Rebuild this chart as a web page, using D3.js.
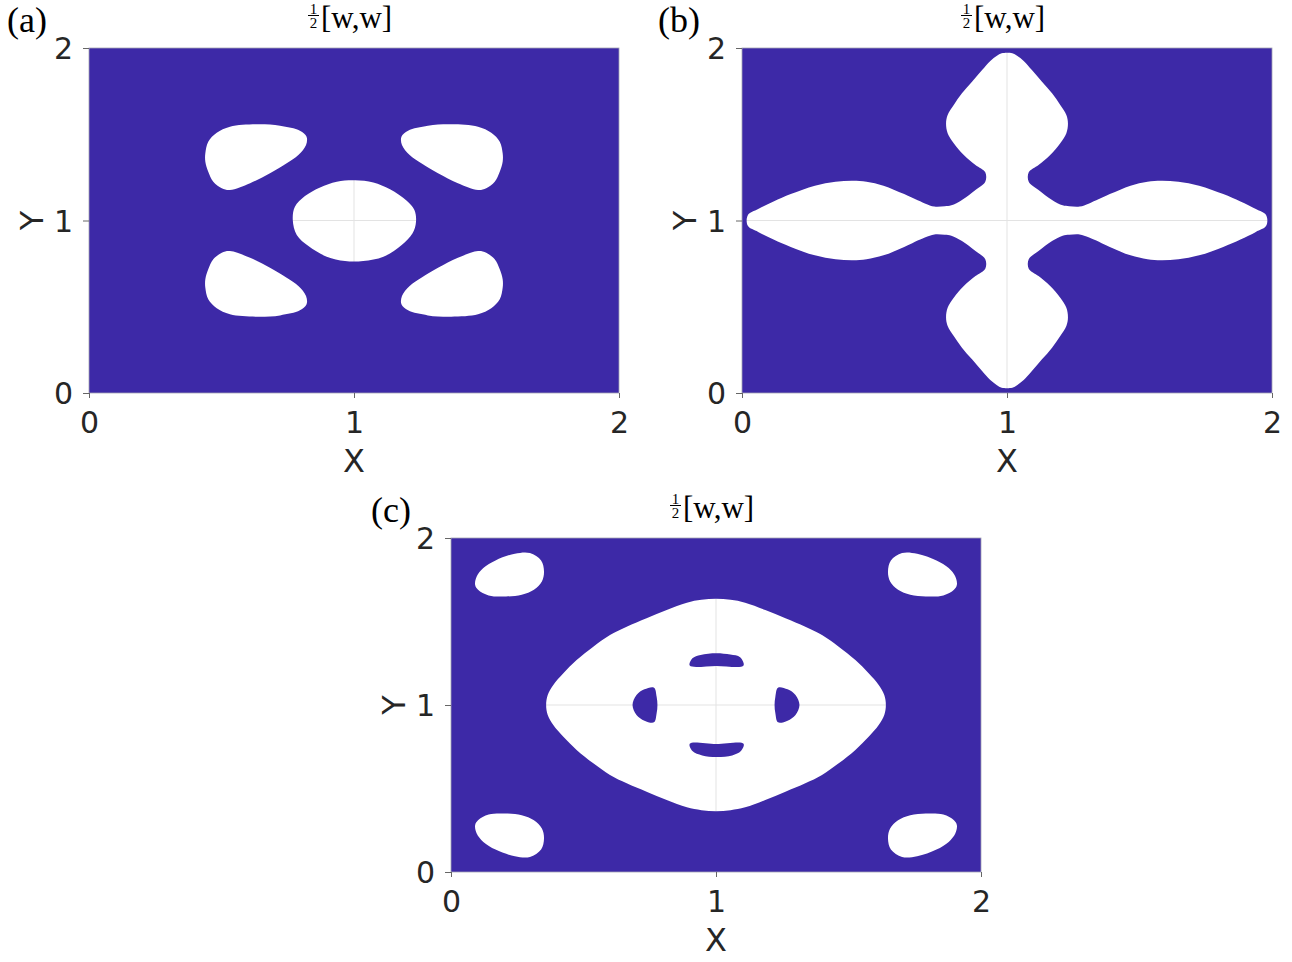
<!DOCTYPE html>
<html>
<head>
<meta charset="utf-8">
<script src="https://cdn.jsdelivr.net/npm/d3@7"></script>
<style>
  body { margin: 0; background: #fff; }
  svg { display: block; }
</style>
</head>
<body>
<div id="chart"></div>
<script>
// Axis ticks and labels
const ticks = [0, 1, 2];
const panelLabels = ['(a)', '(b)', '(c)'];
const titleText = '[w,w]';

// White (empty) regions of each panel, outline points in data units [x, y]
const holesA = [
  // centre
  [[0.769,1.003],[0.777,1.080],[0.815,1.142],[0.872,1.192],[0.935,1.225],[1.004,1.233],[1.073,1.221],
   [1.136,1.181],[1.199,1.115],[1.228,1.061],[1.234,0.993],[1.221,0.926],[1.180,0.858],[1.111,0.790],
   [1.035,0.765],[0.966,0.765],[0.897,0.790],[0.828,0.852],[0.784,0.916]],
  // top left
  [[0.439,1.390],[0.450,1.457],[0.482,1.509],[0.532,1.544],[0.633,1.558],[0.721,1.550],[0.796,1.521],
   [0.821,1.486],[0.819,1.438],[0.790,1.380],[0.746,1.332],[0.683,1.274],[0.608,1.216],[0.532,1.177],
   [0.501,1.187],[0.469,1.225],[0.450,1.283],[0.439,1.341]],
  // top right
  [[1.561,1.390],[1.550,1.457],[1.518,1.509],[1.468,1.544],[1.367,1.558],[1.279,1.550],[1.204,1.521],
   [1.179,1.486],[1.181,1.438],[1.210,1.380],[1.254,1.332],[1.317,1.274],[1.392,1.216],[1.468,1.177],
   [1.499,1.187],[1.531,1.225],[1.550,1.283],[1.561,1.341]],
  // bottom left
  [[0.439,0.610],[0.450,0.543],[0.482,0.491],[0.532,0.456],[0.633,0.442],[0.721,0.450],[0.796,0.479],
   [0.821,0.514],[0.819,0.562],[0.790,0.620],[0.746,0.668],[0.683,0.726],[0.608,0.784],[0.532,0.823],
   [0.501,0.813],[0.469,0.775],[0.450,0.717],[0.439,0.659]],
  // bottom right
  [[1.561,0.610],[1.550,0.543],[1.518,0.491],[1.468,0.456],[1.367,0.442],[1.279,0.450],[1.204,0.479],
   [1.179,0.514],[1.181,0.562],[1.210,0.620],[1.254,0.668],[1.317,0.726],[1.392,0.784],[1.468,0.823],
   [1.499,0.813],[1.531,0.775],[1.550,0.717],[1.561,0.659]]
];

const holesB = [
  // cross shaped region
  [[0.980,1.969],[0.962,1.955],[0.937,1.925],[0.906,1.872],[0.868,1.805],[0.830,1.737],[0.799,1.670],
   [0.776,1.612],[0.770,1.563],[0.776,1.506],[0.799,1.448],[0.837,1.380],[0.881,1.322],[0.918,1.279],
   [0.918,1.225],[0.881,1.177],[0.830,1.119],[0.790,1.088],[0.765,1.083],[0.726,1.081],[0.690,1.099],
   [0.612,1.153],[0.534,1.202],[0.470,1.225],[0.418,1.231],[0.353,1.225],[0.275,1.202],[0.184,1.153],
   [0.119,1.110],[0.061,1.066],[0.022,1.031],
   [0.022,0.969],[0.061,0.934],[0.119,0.890],[0.184,0.847],[0.275,0.798],[0.353,0.775],[0.418,0.769],
   [0.470,0.775],[0.534,0.798],[0.612,0.847],[0.690,0.901],[0.726,0.919],[0.765,0.917],[0.790,0.912],
   [0.830,0.881],[0.881,0.823],[0.918,0.775],[0.918,0.721],[0.881,0.678],[0.837,0.620],[0.799,0.552],
   [0.776,0.494],[0.770,0.437],[0.776,0.388],[0.799,0.330],[0.830,0.263],[0.868,0.195],[0.906,0.128],
   [0.937,0.075],[0.962,0.045],[0.980,0.031],
   [1.020,0.031],[1.038,0.045],[1.063,0.075],[1.094,0.128],[1.132,0.195],[1.170,0.263],[1.201,0.330],
   [1.224,0.388],[1.230,0.437],[1.224,0.494],[1.201,0.552],[1.163,0.620],[1.119,0.678],[1.082,0.721],
   [1.082,0.775],[1.119,0.823],[1.170,0.881],[1.210,0.912],[1.235,0.917],[1.274,0.919],[1.310,0.901],
   [1.388,0.847],[1.466,0.798],[1.530,0.775],[1.582,0.769],[1.647,0.775],[1.725,0.798],[1.816,0.847],
   [1.881,0.890],[1.939,0.934],[1.978,0.969],
   [1.978,1.031],[1.939,1.066],[1.881,1.110],[1.816,1.153],[1.725,1.202],[1.647,1.225],[1.582,1.231],
   [1.530,1.225],[1.466,1.202],[1.388,1.153],[1.310,1.099],[1.274,1.081],[1.235,1.083],[1.210,1.088],
   [1.170,1.119],[1.119,1.177],[1.082,1.225],[1.082,1.279],[1.119,1.322],[1.163,1.380],[1.201,1.448],
   [1.224,1.506],[1.230,1.563],[1.224,1.612],[1.201,1.670],[1.170,1.737],[1.132,1.805],[1.094,1.872],
   [1.063,1.925],[1.038,1.955],[1.020,1.969]]
];

const holesC = [
  // corner ovals
  [[0.091,1.720],[0.097,1.770],[0.122,1.820],[0.168,1.866],[0.241,1.906],[0.298,1.910],[0.340,1.866],
   [0.351,1.800],[0.343,1.740],[0.313,1.690],[0.267,1.660],[0.208,1.650],[0.142,1.656],[0.102,1.690]],
  [[1.909,1.720],[1.903,1.770],[1.878,1.820],[1.832,1.866],[1.759,1.906],[1.702,1.910],[1.660,1.866],
   [1.649,1.800],[1.657,1.740],[1.687,1.690],[1.733,1.660],[1.792,1.650],[1.858,1.656],[1.898,1.690]],
  [[0.091,0.280],[0.097,0.230],[0.122,0.180],[0.168,0.134],[0.241,0.094],[0.298,0.090],[0.340,0.134],
   [0.351,0.200],[0.343,0.260],[0.313,0.310],[0.267,0.340],[0.208,0.350],[0.142,0.344],[0.102,0.310]],
  [[1.909,0.280],[1.903,0.230],[1.878,0.180],[1.832,0.134],[1.759,0.094],[1.702,0.090],[1.660,0.134],
   [1.649,0.200],[1.657,0.260],[1.687,0.310],[1.733,0.340],[1.792,0.350],[1.858,0.344],[1.898,0.310]],
  // central region
  [[0.359,1.000],[0.365,1.060],[0.386,1.120],[0.424,1.190],[0.474,1.269],[0.537,1.349],[0.600,1.419],
   [0.663,1.469],[0.738,1.519],[0.814,1.569],[0.890,1.613],[0.945,1.630],[1.000,1.636],[1.055,1.630],
   [1.110,1.613],[1.186,1.569],[1.262,1.519],[1.337,1.469],[1.400,1.419],[1.463,1.349],[1.526,1.269],
   [1.576,1.190],[1.614,1.120],[1.635,1.060],[1.641,1.000],[1.635,0.940],[1.614,0.880],[1.576,0.810],
   [1.526,0.731],[1.463,0.651],[1.400,0.581],[1.337,0.531],[1.262,0.481],[1.186,0.431],[1.110,0.387],
   [1.055,0.370],[1.000,0.364],[0.945,0.370],[0.890,0.387],[0.814,0.431],[0.738,0.481],[0.663,0.531],
   [0.600,0.581],[0.537,0.651],[0.474,0.731],[0.424,0.810],[0.386,0.880],[0.365,0.940]]
];

// Filled islands sitting inside the central region of (c)
const islandsC = [
  [[0.901,1.236],[0.911,1.280],[0.942,1.300],[1.001,1.310],[1.054,1.302],[1.091,1.286],[1.104,1.236],[1.001,1.234]],
  [[0.901,0.768],[1.001,0.766],[1.104,0.768],[1.094,0.724],[1.061,0.698],[1.001,0.689],[0.948,0.698],[0.911,0.724]],
  [[0.766,1.104],[0.776,1.050],[0.779,1.000],[0.776,0.950],[0.766,0.896],[0.730,0.906],[0.700,0.940],
   [0.685,1.000],[0.700,1.060],[0.730,1.094]],
  [[1.234,1.104],[1.224,1.050],[1.221,1.000],[1.224,0.950],[1.234,0.896],[1.270,0.906],[1.300,0.940],
   [1.315,1.000],[1.300,1.060],[1.270,1.094]]
];

const width = 1292;
const height = 962;
const fillColor = '#3d29a7';
const sans = '"DejaVu Sans", sans-serif';
const serif = '"Liberation Serif", "DejaVu Serif", serif';

const svg = d3.select('#chart')
  .append('svg')
  .attr('width', width)
  .attr('height', height);

const panels = [
  { label: panelLabels[0], left: 89,  top: 48,  w: 530, h: 345, holes: holesA, islands: [], labelX: 7 },
  { label: panelLabels[1], left: 742, top: 48,  w: 530, h: 345, holes: holesB, islands: [], labelX: 658 },
  { label: panelLabels[2], left: 451, top: 538, w: 530, h: 334, holes: holesC, islands: islandsC, labelX: 371 }
];

panels.forEach(drawPanel);

function drawPanel(p) {
  const x = d3.scaleLinear().domain([0, 2]).range([p.left, p.left + p.w]);
  const y = d3.scaleLinear().domain([0, 2]).range([p.top + p.h, p.top]);
  const g = svg.append('g');

  // Grid lines (only visible through empty regions)
  g.append('line')
    .attr('x1', x(1)).attr('x2', x(1))
    .attr('y1', y(0)).attr('y2', y(2))
    .attr('stroke', '#e3e3e3').attr('stroke-width', 1);
  g.append('line')
    .attr('x1', x(0)).attr('x2', x(2))
    .attr('y1', y(1)).attr('y2', y(1))
    .attr('stroke', '#e3e3e3').attr('stroke-width', 1);

  const outline = d3.line()
    .x(d => x(d[0]))
    .y(d => y(d[1]))
    .curve(d3.curveCatmullRomClosed.alpha(0.5));

  // Filled domain with holes cut out
  const rectPath = `M${x(0)},${y(0)}H${x(2)}V${y(2)}H${x(0)}Z`;
  g.append('path')
    .attr('d', rectPath + p.holes.map(outline).join(''))
    .attr('fill', fillColor)
    .attr('fill-rule', 'evenodd');

  g.selectAll('path.island')
    .data(p.islands)
    .enter()
    .append('path')
    .attr('class', 'island')
    .attr('d', outline)
    .attr('fill', fillColor);

  // Box
  g.append('rect')
    .attr('x', x(0)).attr('y', y(2))
    .attr('width', x(2) - x(0)).attr('height', y(0) - y(2))
    .attr('fill', 'none')
    .attr('stroke', '#a3a3b3')
    .attr('stroke-width', 0.8);

  // Axes
  const xAxis = g.append('g')
    .attr('transform', `translate(0,${y(0)})`)
    .call(d3.axisBottom(x).tickValues(ticks).tickSize(5).tickPadding(14).tickFormat(d3.format('d')));
  const yAxis = g.append('g')
    .attr('transform', `translate(${x(0)},0)`)
    .call(d3.axisLeft(y).tickValues(ticks).tickSize(6).tickPadding(10).tickFormat(d3.format('d')));

  [xAxis, yAxis].forEach(ax => {
    ax.select('.domain').remove();
    ax.selectAll('.tick line').attr('stroke', '#666');
    ax.selectAll('.tick text')
      .attr('fill', '#262626')
      .style('font-family', sans)
      .style('font-size', '30px');
  });
  yAxis.selectAll('.tick text').attr('dy', '0.36em');

  // Axis labels
  g.append('text')
    .attr('x', x(1))
    .attr('y', y(0) + 79)
    .attr('text-anchor', 'middle')
    .attr('fill', '#262626')
    .style('font-family', sans)
    .style('font-size', '32px')
    .text('X');
  g.append('text')
    .attr('transform', `translate(${x(0) - 46},${y(1)}) rotate(-90)`)
    .attr('text-anchor', 'middle')
    .attr('fill', '#262626')
    .style('font-family', sans)
    .style('font-size', '32px')
    .text('Y');

  // Title: 1/2 [w,w]
  const cx = x(1);
  const t = g.append('g').attr('transform', `translate(${cx},${p.top})`);
  t.append('text')
    .attr('x', -40.5).attr('y', -34)
    .attr('text-anchor', 'middle')
    .style('font-family', serif).style('font-size', '15px')
    .text('1');
  t.append('line')
    .attr('x1', -46).attr('x2', -35)
    .attr('y1', -32.5).attr('y2', -32.5)
    .attr('stroke', '#000').attr('stroke-width', 1);
  t.append('text')
    .attr('x', -40.5).attr('y', -20.5)
    .attr('text-anchor', 'middle')
    .style('font-family', serif).style('font-size', '15px')
    .text('2');
  t.append('text')
    .attr('x', -33).attr('y', -20)
    .style('font-family', serif).style('font-size', '31px')
    .text(titleText);

  // Panel label
  g.append('text')
    .attr('x', p.labelX)
    .attr('y', p.top - 16)
    .style('font-family', serif)
    .style('font-size', '36px')
    .text(p.label);
}
</script>
</body>
</html>
